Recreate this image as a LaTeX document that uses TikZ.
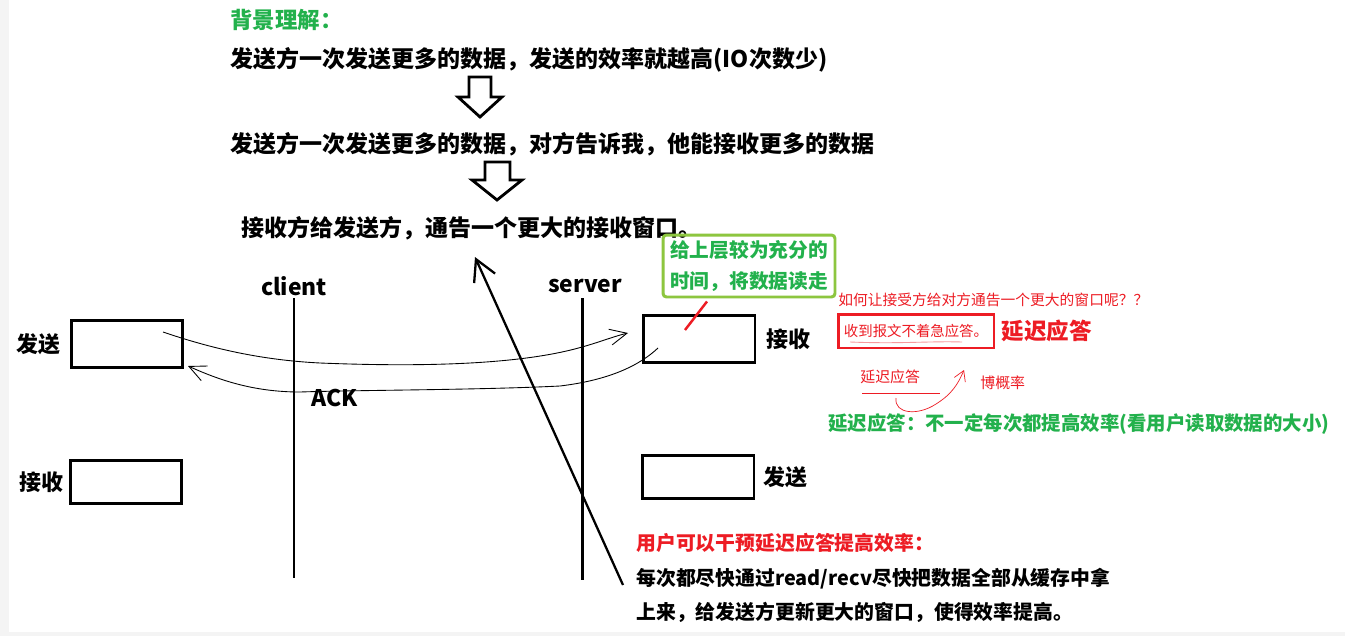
\documentclass[tikz,border=0pt]{standalone}
\usepackage{fontspec}
\setmainfont{Noto Sans CJK SC}
\usetikzlibrary{positioning, arrows.meta}
\definecolor{notegreen}{RGB}{34, 177, 76}
\definecolor{limeframe}{RGB}{141, 198, 63}
\definecolor{notered}{RGB}{237, 28, 36}
\definecolor{paper}{RGB}{244, 244, 244}
\tikzset{
  txt/.style={anchor=west, inner sep=0pt, font=\bfseries\fontsize{13.1}{15}\selectfont},
  buf/.style={draw, line width=1.7pt, minimum width=2.24cm, minimum height=0.94cm},
  lbl/.style={inner sep=0pt, font=\bfseries\fontsize{12.5}{14}\selectfont},
  lifeline/.style={line width=1.7pt},
  hand/.style={line width=0.5pt, -{Straight Barb[length=3.4mm, width=3.2mm]}},
  block/.style={line width=1.6pt, fill=white, line join=miter},
}

\begin{document}
\begin{tikzpicture}[x=0.02cm, y=-0.02cm]
  \useasboundingbox (0,0) rectangle (1345,636);
  \fill[paper] (0,0) rectangle (1345,636);
  \fill[white] (9,0) rectangle (1345,632);

  % background reasoning
  \node[txt, text=notegreen, font=\bfseries\fontsize{12.8}{15}\selectfont] (bg) at (230,20) {背景理解：};
  \node[txt] (more)   at (230,60)  {发送方一次发送更多的数据，发送的效率就越高(IO次数少)};
  \node[txt] (tellme) at (230,144) {发送方一次发送更多的数据，对方告诉我，他能接收更多的数据};
  \node[txt] (bigwin) at (241,228) {接收方给发送方，通告一个更大的接收窗口。};

  \draw[block] (469,77) -- (491,77) -- (491,97) -- (502,97) -- (480,117) -- (458,97) -- (469,97) -- cycle;
  \draw[block] (485,162) -- (510,162) -- (510,180) -- (522,180) -- (497,200) -- (472,180) -- (485,180) -- cycle;

  % client / server
  \node[lbl, font=\bfseries\fontsize{13}{15}\selectfont] (client) at (294,286) {client};
  \node[lbl, font=\bfseries\fontsize{13}{15}\selectfont] (server) at (585,286) {server};
  \draw[lifeline] (294,298) -- (294,578);
  \draw[lifeline] (582,298) -- (582,580);

  \node[buf] (csend) at (127,344) {};
  \node[buf, minimum height=0.86cm] (crecv) at (126,482) {};
  \node[buf] (srecv) at (699,339) {};
  \node[buf, minimum height=0.86cm] (ssend) at (698,477) {};
  \node[lbl, left=0.18cm of csend]  {发送};
  \node[lbl, left=0.1cm of crecv]   {接收};
  \node[lbl, right=0.2cm of srecv]  {接收};
  \node[lbl, right=0.16cm of ssend] {发送};

  \coordinate (dataout) at (163,332);
  \coordinate (datain)  at (628,333);
  \coordinate (ackout)  at (658,348);
  \coordinate (ackin)   at (188,366);
  \draw[hand] (dataout) .. controls (210,348) and (260,360) .. (320,363)
                        .. controls (420,367) and (520,365) .. (582,347)
                        .. controls (600,342) and (615,336) .. (datain);
  \draw[hand] (ackout) .. controls (640,365) and (610,380) .. (560,386)
                       .. controls (480,390) and (360,390) .. (300,392)
                       .. controls (250,392) and (215,378) .. (ackin);
  \node[txt, font=\bfseries\fontsize{13}{15}\selectfont] (ack) at (311,398) {ACK};

  % read quickly
  \node[draw=limeframe, line width=1.7pt, rounded corners=2pt, text=notegreen, align=left,
        inner sep=0pt, minimum width=3.44cm, minimum height=1.24cm,
        font=\bfseries\fontsize{11.2}{18}\selectfont] (window) at (749,266)
        {给上层较为充分的\\时间，将数据读走};
  \coordinate (pin) at (685,330);
  \draw[notered, line width=1.4pt] (window.south) ++(-42,3) -- (pin);

  % delayed ack
  \node[txt, text=notered, font=\fontsize{8.4}{10}\selectfont] (how) at (838,300) {如何让接受方给对方通告一个更大的窗口呢？？};
  \node[draw=notered, line width=1.7pt, text=notered, inner sep=0pt,
        minimum width=3.12cm, minimum height=0.68cm,
        font=\fontsize{8.2}{10}\selectfont] (nohurry) at (916,331) {收到报文不着急应答。};
  \draw[notered!45, line width=0.5pt] (850,342) .. controls (900,344) and (930,341) .. (962,342);
  \node[inner sep=0pt, text=notered, font=\bfseries\fontsize{12.8}{15}\selectfont,
        right=0.12cm of nohurry] (delay) {延迟应答};

  \node[txt, text=notered, font=\fontsize{8.5}{10}\selectfont] (delay2) at (860,377) {延迟应答};
  \node[txt, text=notered, font=\fontsize{8.5}{10}\selectfont] (odds) at (980,383) {博概率};
  \draw[notered, line width=0.4pt] (862,393) -- (940,393);
  \draw[notered, line width=0.4pt, -{Straight Barb[length=2mm, width=2.4mm]}]
        (896,398) .. controls (894,414) and (918,416) .. (936,404)
                  .. controls (952,394) and (958,384) .. (964,370);

  \node[txt, text=notegreen, font=\bfseries\fontsize{11.05}{14}\selectfont] (notalways) at (828,424)
        {延迟应答：不一定每次都提高效率(看用户读取数据的大小)};

  % user side
  \node[txt, text=notered, font=\bfseries\fontsize{11.3}{14}\selectfont] (user) at (636,543) {用户可以干预延迟应答提高效率：};
  \node[txt, font=\bfseries\fontsize{11.3}{14}\selectfont] (readfast) at (636,579) {每次都尽快通过read/recv尽快把数据全部从缓存中拿};
  \node[txt, font=\bfseries\fontsize{11.3}{14}\selectfont] (newwin) at (636,612) {上来，给发送方更新更大的窗口，使得效率提高。};

  \coordinate (tail) at (623,585);
  \coordinate (tip)  at (475,257);
  \draw[line width=1.3pt, -{Straight Barb[length=4.2mm, width=4.6mm]}] (tail) -- (tip);
\end{tikzpicture}
\end{document}
